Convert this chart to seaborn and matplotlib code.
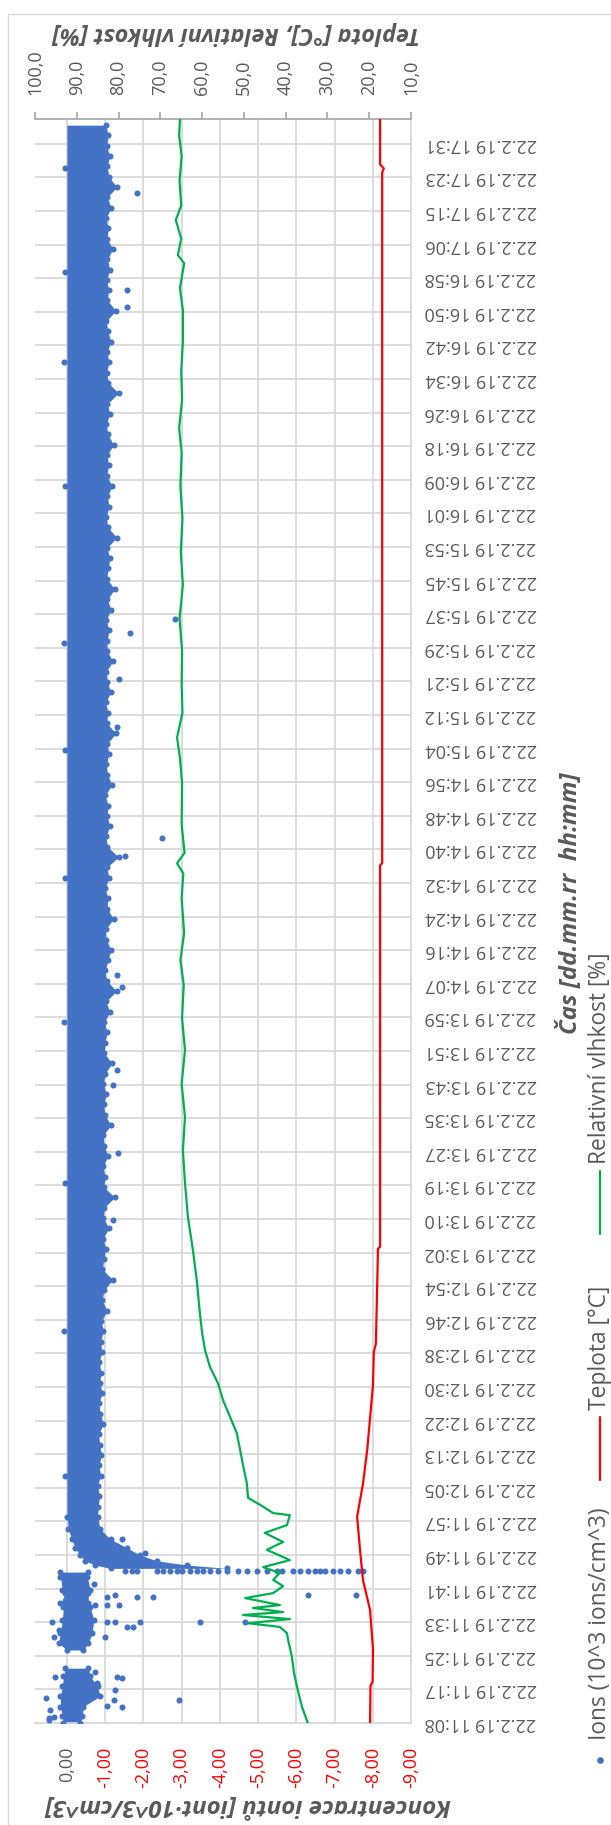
import numpy as np
import matplotlib
matplotlib.use("Agg")
import matplotlib.pyplot as plt
import seaborn as sns
from matplotlib.patches import Rectangle
from matplotlib.lines import Line2D

# ---------------- data ----------------
time_labels = [
    "22.2.19 11:08", "22.2.19 11:17", "22.2.19 11:25", "22.2.19 11:33", "22.2.19 11:41",
    "22.2.19 11:49", "22.2.19 11:57", "22.2.19 12:05", "22.2.19 12:13", "22.2.19 12:22",
    "22.2.19 12:30", "22.2.19 12:38", "22.2.19 12:46", "22.2.19 12:54", "22.2.19 13:02",
    "22.2.19 13:10", "22.2.19 13:19", "22.2.19 13:27", "22.2.19 13:35", "22.2.19 13:43",
    "22.2.19 13:51", "22.2.19 13:59", "22.2.19 14:07", "22.2.19 14:16", "22.2.19 14:24",
    "22.2.19 14:32", "22.2.19 14:40", "22.2.19 14:48", "22.2.19 14:56", "22.2.19 15:04",
    "22.2.19 15:12", "22.2.19 15:21", "22.2.19 15:29", "22.2.19 15:37", "22.2.19 15:45",
    "22.2.19 15:53", "22.2.19 16:01", "22.2.19 16:09", "22.2.19 16:18", "22.2.19 16:26",
    "22.2.19 16:34", "22.2.19 16:42", "22.2.19 16:50", "22.2.19 16:58", "22.2.19 17:06",
    "22.2.19 17:15", "22.2.19 17:23", "22.2.19 17:31",
]
label_span_min = 383.0      # 11:08 -> 17:31 in minutes
data_end_min = 389.0        # last sample ~17:37

ion_ticks = [0, -1, -2, -3, -4, -5, -6, -7, -8, -9]
ion_tick_labels = ["0,00", "-1,00", "-2,00", "-3,00", "-4,00", "-5,00", "-6,00", "-7,00", "-8,00", "-9,00"]
env_ticks = [100, 90, 80, 70, 60, 50, 40, 30, 20, 10]
env_tick_labels = ["100,0", "90,0", "80,0", "70,0", "60,0", "50,0", "40,0", "30,0", "20,0", "10,0"]

# Ion concentration: dense band (min / max of the point cloud) per time
blob1_t = [0.0, 1.6, 4.0, 6.5, 8.9, 11.3, 13.3]
blob1_lo = [0.09, 0.12, 0.17, 0.17, 0.12, 0.09, 0.04]
blob1_hi = [-0.35, -0.40, -0.43, -0.87, -0.80, -0.61, -0.56]

blob2_t = [17.7, 19.4, 21.8, 25.0, 28.1, 29.0, 31.5, 32.3, 35.4, 36.6]
blob2_lo = [0.0, 0.22, 0.17, 0.12, 0.09, 0.17, 0.04, 0.12, 0.17, 0.17]
blob2_hi = [-0.43, -0.56, -0.66, -0.70, -0.61, -0.56, -0.56, -0.61, -0.53, -0.56]

trans_t = [37.5, 38.3, 39.3, 40.7, 42.4, 44.6, 47.0, 50.0]
trans_lo = [-1.14, -0.74, -0.48, -0.35, -0.22, -0.12, -0.04, 0.0]
trans_hi = [-4.19, -3.15, -2.36, -1.92, -1.58, -1.14, -0.87, -0.80]

steady_t0 = 52.5
steady_dt = 2.5
steady_lo = 0.0
steady_hi = (
    [-0.82, -0.85, -0.80, -0.88, -0.84, -0.90, -0.86, -0.83, -0.95, -0.87, -0.84, -0.92, -0.86, -0.89, -0.85, -0.91]
    + [-0.88, -0.95, -0.90, -1.05, -0.92, -0.97, -1.20, -0.93, -0.96, -1.02, -0.94, -1.10, -0.95, -0.98, -1.25,
       -0.96, -1.00, -0.94, -1.08, -0.97, -0.95, -1.15, -0.99, -0.96, -1.03, -0.95, -1.00, -1.18, -0.97]
    + [-1.00, -1.05, -0.98, -1.12, -1.02, -1.30, -1.04, -1.00, -1.08, -1.15, -1.03, -1.01, -1.22, -1.05, -1.07,
       -1.00, -1.10, -1.04, -1.35, -1.06, -1.02, -1.12, -1.05, -1.08, -1.00, -1.18, -1.06, -1.03, -1.10, -1.05,
       -1.28, -1.04, -1.07, -1.02, -1.14, -1.06, -1.03, -1.20, -1.05]
    + [-1.05, -1.10, -1.03, -1.15, -1.06, -1.25, -1.04, -1.08, -1.12, -1.05, -1.30, -1.07, -1.03, -1.10, -1.06,
       -1.18, -1.04, -1.09, -1.05, -1.22, -1.07, -1.03, -1.12, -1.06, -1.35, -1.08, -1.04, -1.10, -1.05, -1.15,
       -1.07, -1.03, -1.28, -1.06, -1.09, -1.04, -1.12, -1.06, -1.20, -1.05, -1.08, -1.03, -1.15, -1.06, -1.30,
       -1.10, -1.05, -1.12, -1.04, -1.08, -1.02]
)
# sparse points just left of zero in the steady part
left_t = [60.0, 95.0, 131.0, 170.0, 205.0, 236.0, 262.0, 300.0, 330.0, 352.0, 377.0]
left_v = [0.06, 0.08, 0.05, 0.07, 0.06, 0.05, 0.08, 0.06, 0.07, 0.05, 0.06]

# isolated ion points (time in minutes after 11:08, value)
out_t = [24.5, 33.7, 30.6, 31.0, 30.6, 30.6, 28.6, 28.6, 28.6, 24.5, 24.5, 24.5, 24.5, 24.5,
         23.3, 23.3, 20.9, 20.9, 31.0, 31.0, 22.6, 12.4, 11.2, 11.2, 10.9, 9.7, 8.0, 5.6, 6.1,
         5.6, 3.9, 4.1, 3.2, 1.2, 1.5, 0.7, 44.6, 41.2,
         371.0, 347.5, 343.3, 214.6, 210.2, 253.2, 178.5, 181.4, 241.5, 158.3, 138.2, 154.7,
         122.0, 267.7, 264.3]
out_v = [0.38, -0.70, -1.05, -1.27, -1.83, -2.26, -1.05, -1.37, -0.74, -1.05, -1.27, -1.92, -3.49, -4.66,
         -1.57, -1.74, -1.00, 0.35, -6.30, -7.56, 0.22, -0.74, 0.30, -1.31, -1.44, -0.79, -1.27, -2.92, 0.56,
         -1.22, -1.44, -1.05, 0.43, 0.48, 0.35, 0.46, -1.44, -2.05,
         -1.84, -1.57, -1.57, -2.49, -1.53, -1.37, -1.45, -1.32, -1.32, -1.32, -1.34, -1.21,
         -1.21, -2.83, -1.66]
# row of points during the ionizer switch-over (~11:45)
row_t = 36.9
row_v = [-1.53, -1.71, -1.84, -2.36, -2.52, -2.70, -2.89, -3.02, -3.22, -3.41, -3.56, -3.75, -3.96,
         -4.19, -4.48, -4.71, -4.97, -5.24, -5.50, -5.63, -5.91, -6.10, -6.31, -6.49, -6.62, -6.75,
         -6.96, -7.14, -7.35, -7.61, -7.74]

# relative humidity [%]
hum_t = [0, 3.9, 8.0, 12.1, 16.0, 20.1, 21.8, 23.3, 24.2, 25.2, 26.2, 26.9, 27.9, 28.6, 30.3, 31.5,
         33.2, 34.7, 36.4, 37.8, 39.5, 42.0, 43.9, 46.1, 48.0, 50.4, 50.9, 52.9, 54.6, 58.2, 62.0,
         66.2, 70.3, 74.2, 78.3, 82.4, 86.3, 90.4, 94.6, 100.0, 106.7, 114.7, 122.7, 130.9, 138.9,
         146.9, 155.0, 163.2, 171.0, 179.0, 185.0, 191.6, 200.0, 206.0, 208.5, 211.0, 218.0, 228.0,
         234.0, 239.0, 245.0, 252.0, 260.0, 268.0, 276.0, 284.0, 292.0, 300.0, 308.0, 314.0, 320.8,
         328.0, 335.0, 342.6, 348.0, 354.0, 356.0, 360.0, 364.5, 368.0, 374.0, 380.0, 385.0, 389.0]
hum_v = [34.7, 36.1, 37.1, 38.0, 38.5, 39.4, 39.7, 41.4, 49.0, 39.0, 50.2, 40.6, 47.8, 41.4, 49.7, 43.0,
         40.6, 43.0, 41.4, 45.4, 39.0, 44.5, 40.6, 45.0, 39.7, 39.0, 43.0, 46.1, 49.0, 49.3, 50.1,
         50.9, 51.7, 53.3, 55.0, 56.2, 58.1, 59.3, 60.0, 60.6, 61.2, 62.2, 63.4, 64.1, 64.6,
         64.1, 64.9, 64.1, 64.8, 64.4, 65.2, 64.3, 64.9, 64.5, 66.0, 64.2, 64.9, 64.8,
         65.3, 66.0, 64.7, 64.9, 64.8, 65.4, 64.6, 65.1, 64.7, 65.2, 64.9, 65.5, 64.8,
         65.0, 64.6, 64.6, 65.3, 64.3, 65.8, 65.0, 66.3, 65.0, 65.4, 64.9, 65.5, 65.3]

# temperature [°C]
temp_t = [0, 9.0, 10.0, 18.0, 27.4, 34.7, 42.0, 50.0, 54.0, 58.0, 66.0, 74.0, 82.0, 90.0, 92.0,
          115.0, 115.5, 208.0, 208.5, 376.0, 377.0, 378.0, 389.0]
temp_v = [19.8, 19.7, 19.2, 19.1, 19.8, 21.5, 22.2, 22.9, 22.2, 21.5, 20.5, 19.8, 19.1, 18.9, 18.4,
          17.9, 17.4, 17.4, 16.9, 16.9, 16.5, 17.4, 17.4]

# ---------------- style ----------------
BLUE = "#4472C4"
RED = "#FF0000"
GREEN = "#00B050"
GRID = "#D9D9D9"
TXT = "#595959"

sns.set_style("white")
plt.rcParams["font.family"] = ["Open Sans", "DejaVu Sans"]

W, H = 611, 1825
fig = plt.figure(figsize=(W / 100, H / 100), dpi=100)
renderer = fig.canvas.get_renderer()


def fx(px):
    return px / W


def fy(py):
    return 1 - py / H


def fit(txt, target_px, dim):
    """scale a text's font so that its extent along dim matches target_px"""
    bb = txt.get_window_extent(renderer)
    cur = bb.width if dim == "w" else bb.height
    txt.set_fontsize(txt.get_fontsize() * target_px / cur)
    return txt.get_fontsize()


# chart border
fig.add_artist(Rectangle((fx(8), -0.1), 1.2, fy(14) + 0.1, transform=fig.transFigure,
                         fill=False, ec=GRID, lw=1.0))

L, R, T, B = 35, 411, 119, 1723
ax = fig.add_axes([fx(L), fy(B), fx(R) - fx(L), fy(T) - fy(B)])
ax2 = ax.twiny()

# ion band
ax.fill_betweenx(blob1_t, blob1_lo, blob1_hi, color=BLUE, lw=0)
ax.fill_betweenx(blob2_t, blob2_lo, blob2_hi, color=BLUE, lw=0)
steady_t = list(steady_t0 + steady_dt * np.arange(len(steady_hi)))
main_t = trans_t + steady_t
main_lo = trans_lo + [steady_lo] * len(steady_hi)
main_hi = trans_hi + steady_hi
ax.fill_betweenx(main_t, main_lo, main_hi, color=BLUE, lw=0)

pts_v = (blob1_lo + blob1_hi + blob2_lo + blob2_hi + trans_lo + trans_hi + steady_hi
         + left_v + out_v + row_v)
pts_t = (blob1_t + blob1_t + blob2_t + blob2_t + trans_t + trans_t + steady_t
         + left_t + out_t + [row_t] * len(row_v))
sns.scatterplot(x=pts_v, y=pts_t, ax=ax, color=BLUE, s=19, linewidth=0, zorder=3)

# environment lines
sns.lineplot(x=temp_v, y=temp_t, ax=ax2, sort=False, estimator=None, color=RED, lw=1.6, zorder=4)
sns.lineplot(x=hum_v, y=hum_t, ax=ax2, sort=False, estimator=None, color=GREEN, lw=1.6, zorder=4)

# axes limits / ticks
ax.set_xlim(0.835, -9)
ax.set_ylim(0, data_end_min)
ax2.set_xlim(100, 10)
ax2.set_ylim(0, data_end_min)

time_pos = [i * label_span_min / (len(time_labels) - 1) for i in range(len(time_labels))]
ax.set_xticks(ion_ticks)
ax.set_xticklabels(ion_tick_labels)
ax.set_yticks(time_pos)
ax.set_yticklabels(time_labels)
ax.yaxis.tick_right()
ax2.set_xticks(env_ticks)
ax2.set_xticklabels(env_tick_labels)

ax.grid(True, color=GRID, lw=1.3)
ax.set_axisbelow(True)
ax2.grid(False)
for s in ["left", "top"]:
    ax.spines[s].set_visible(False)
for s in ["bottom", "right"]:
    ax.spines[s].set_color(GRID)
    ax.spines[s].set_linewidth(1.3)
for s in ["left", "right", "bottom"]:
    ax2.spines[s].set_visible(False)
ax2.spines["top"].set_color("#A6A6A6")
ax2.spines["top"].set_linewidth(1.2)

ax.set_xlabel("")
ax.set_ylabel("")
ax2.set_xlabel("")
ax2.set_ylabel("")

ax.tick_params(axis="x", bottom=True, length=0, pad=17, labelrotation=90, labelsize=13)
ax.tick_params(axis="y", right=True, left=False, length=0, pad=10, labelrotation=180,
               labelsize=13, labelcolor=TXT)
ax2.tick_params(axis="x", top=True, length=5, width=1.2, color="#A6A6A6", direction="out",
                pad=12, labelrotation=90, labelsize=13, labelcolor=TXT)
for lbl in ax.get_xticklabels():
    lbl.set_color(TXT if lbl.get_text() == "0,00" else RED)
for lbl in ax.get_yticklabels():
    lbl.set_va("center")
    lbl.set_ha("left")

# axis titles (sized to the reference's measured extents)
title_kw = dict(fontweight="bold", fontstyle="italic", color=TXT, ha="center", va="center",
                fontsize=14)
t_top = fig.text(fx(236), fy(33), "Teplota [°C], Relativní vlhkost [%]", rotation=180, **title_kw)
t_bot = fig.text(fx(248), fy(1805), "Koncentrace iontů [iont·10^3/cm^3]", rotation=180, **title_kw)
t_cas = fig.text(fx(570), fy(903), "Čas [dd.mm.rr  hh:mm]", rotation=90, **title_kw)
fit(t_top, 370, "w")
fit(t_bot, 407, "w")
fit(t_cas, 262, "h")

# legend (rotated, drawn manually)
leg_x = 600
leg_kw = dict(fontsize=13, color=TXT, rotation=90, ha="center", va="bottom")
fig.add_artist(Line2D([fx(leg_x)], [fy(1760)], marker="o", ms=3.8, color=BLUE, ls="none",
                      transform=fig.transFigure))
l1 = fig.text(fx(leg_x), fy(1740), "Ions (10^3 ions/cm^3)", **leg_kw)
leg_fs = fit(l1, 232, "h")
fig.add_artist(Line2D([fx(leg_x), fx(leg_x)], [fy(1480), fy(1417)], color=RED, lw=1.6,
                      transform=fig.transFigure))
l2 = fig.text(fx(leg_x), fy(1410), "Teplota [°C]", **leg_kw)
l2.set_fontsize(leg_fs)
fig.add_artist(Line2D([fx(leg_x), fx(leg_x)], [fy(1234), fy(1171)], color=GREEN, lw=1.6,
                      transform=fig.transFigure))
l3 = fig.text(fx(leg_x), fy(1164), "Relativní vlhkost [%]", **leg_kw)
l3.set_fontsize(leg_fs)

fig.savefig("out.png", dpi=100)
